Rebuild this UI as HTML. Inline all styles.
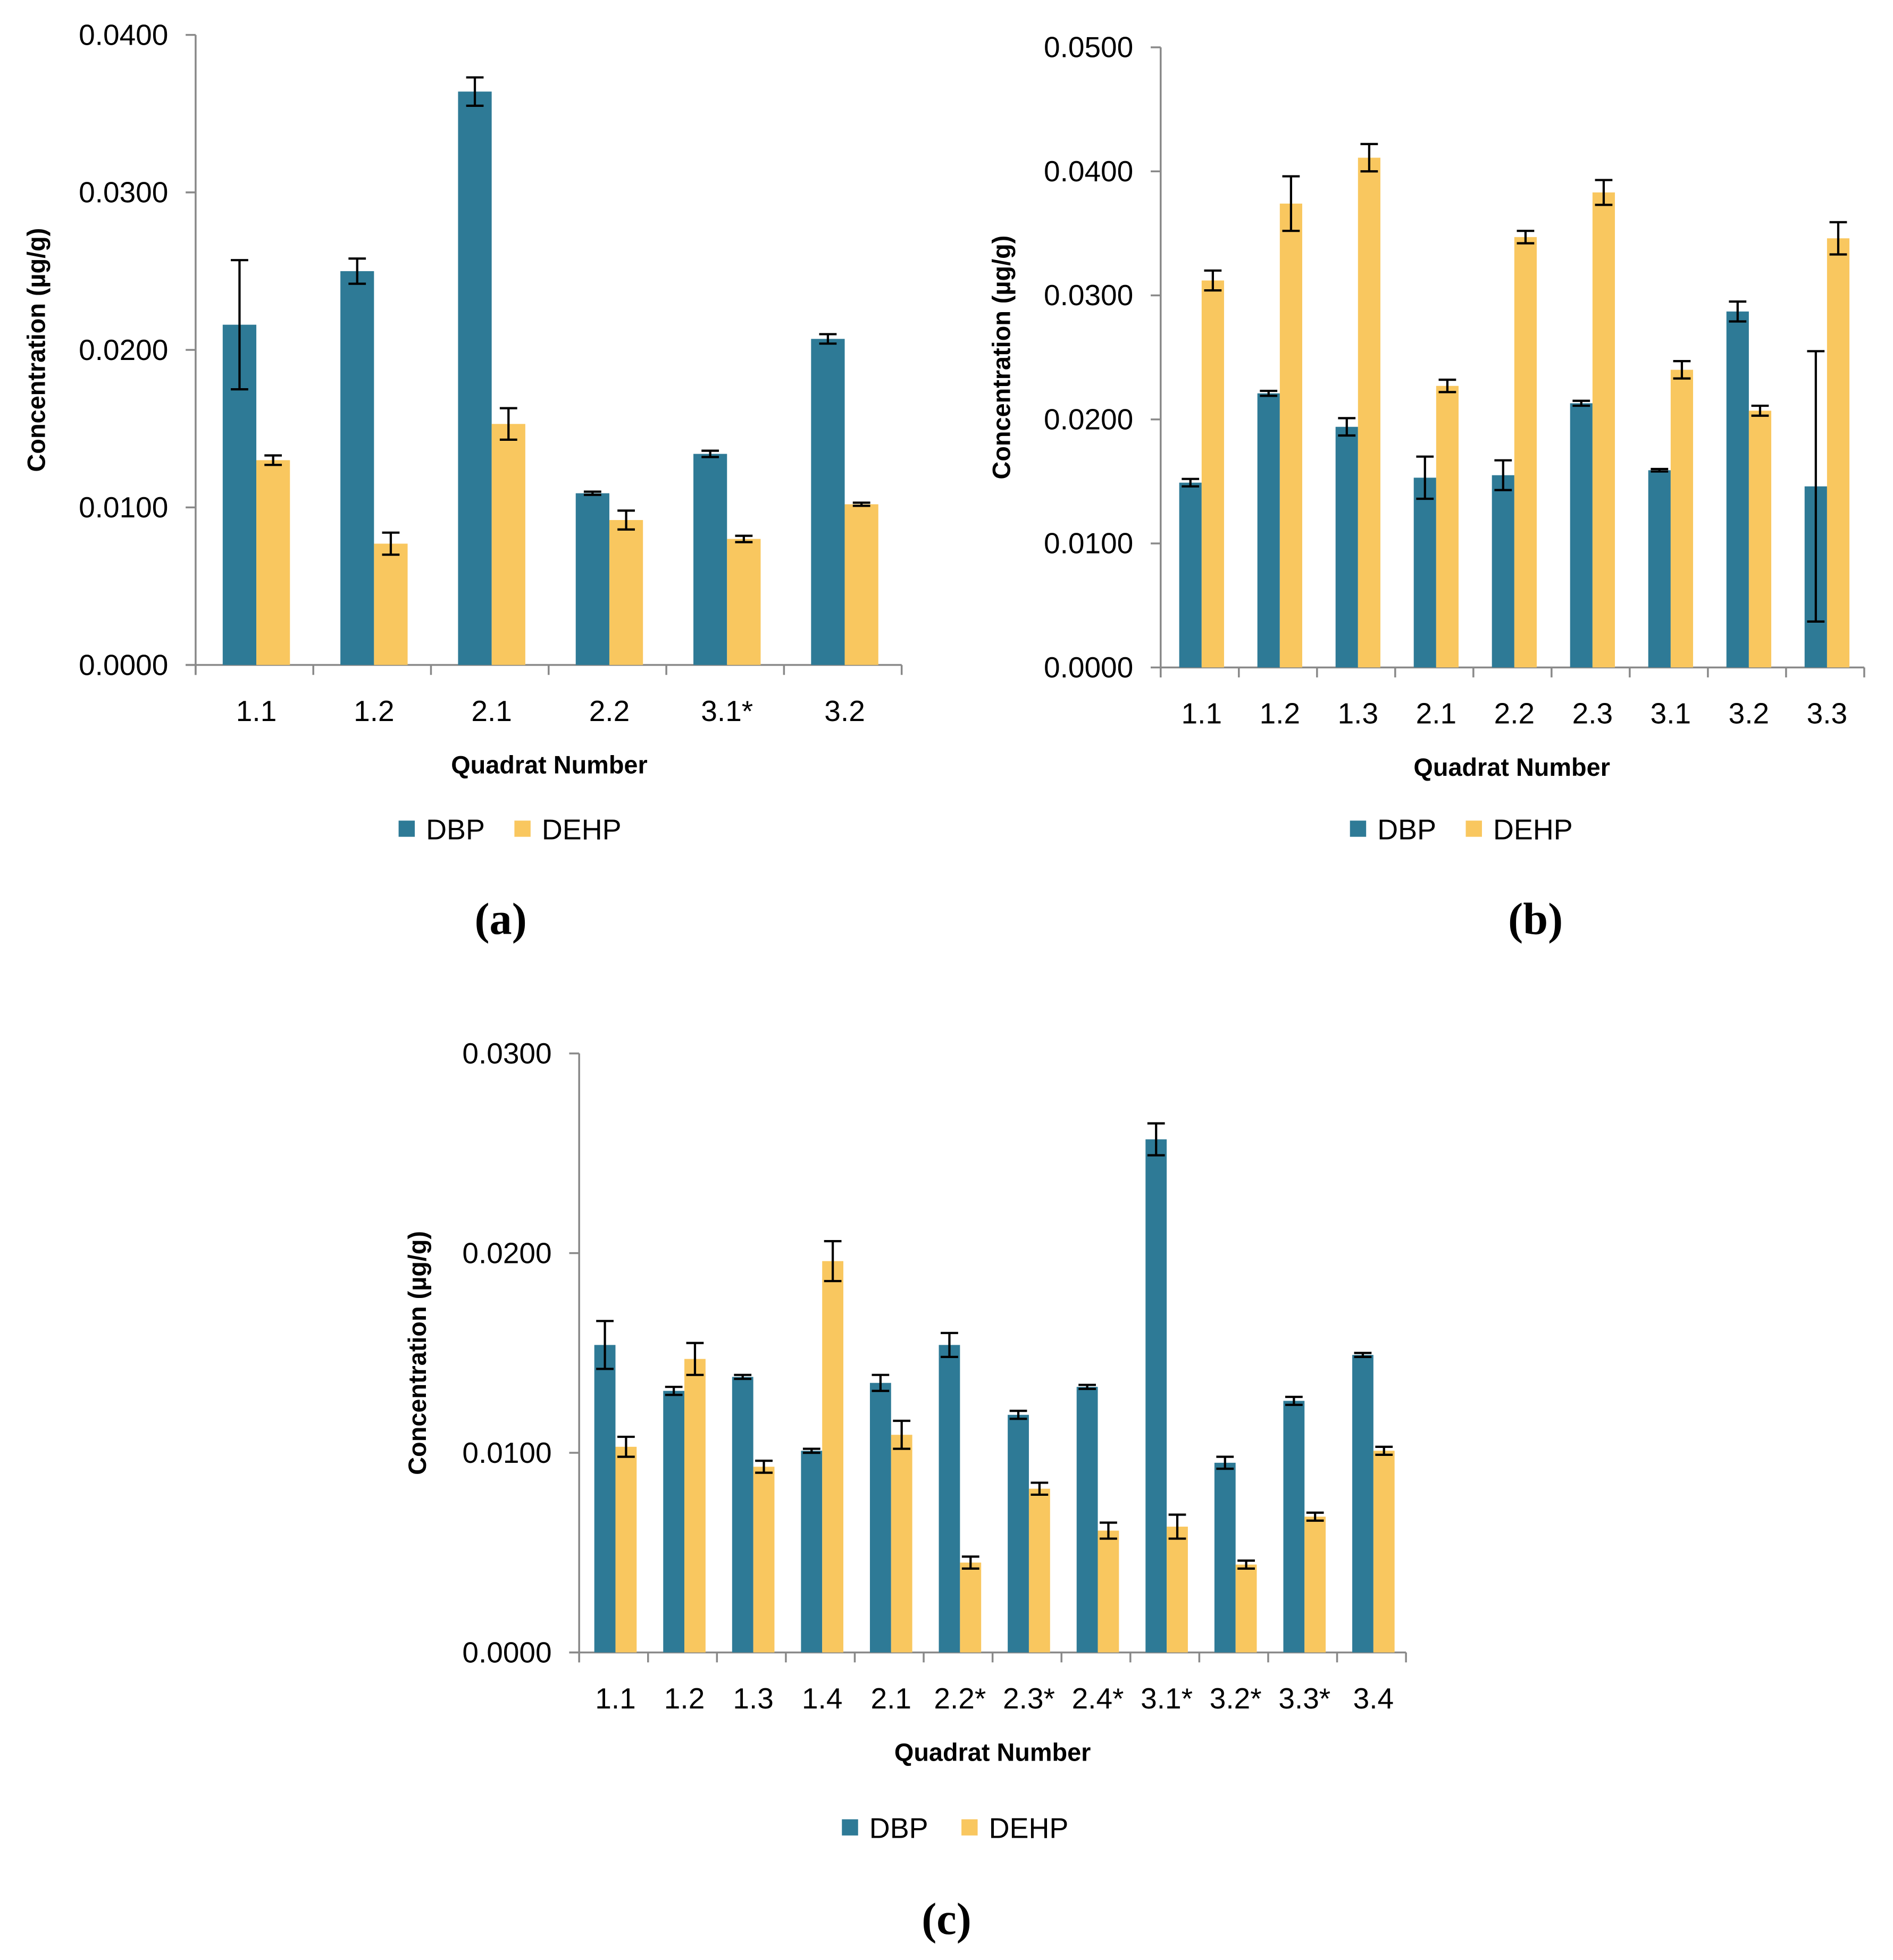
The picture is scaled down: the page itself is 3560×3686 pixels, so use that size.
<!DOCTYPE html>
<html><head><meta charset="utf-8"><style>
html,body{margin:0;padding:0;background:#fff}
svg{display:block}
text{font-family:"Liberation Sans",sans-serif;fill:#000}
</style></head><body>
<svg id="root" xmlns="http://www.w3.org/2000/svg" width="3560" height="3686" viewBox="0 0 1520 1574"></svg>
<script>
const catsA=["1.1","1.2","2.1","2.2","3.1*","3.2"];
const dbpA=[0.0216,0.0250,0.0364,0.0109,0.0134,0.0207];
const dbpErrA=[0.0041,0.0008,0.0009,0.0001,0.0002,0.0003];
const dehpA=[0.0130,0.0077,0.0153,0.0092,0.0080,0.0102];
const dehpErrA=[0.0003,0.0007,0.0010,0.0006,0.0002,0.0001];
const ticksA=["0.0000","0.0100","0.0200","0.0300","0.0400"];

const catsB=["1.1","1.2","1.3","2.1","2.2","2.3","3.1","3.2","3.3"];
const dbpB=[0.0149,0.0221,0.0194,0.0153,0.0155,0.0213,0.0159,0.0287,0.0146];
const dbpErrB=[0.0003,0.0002,0.0007,0.0017,0.0012,0.0002,0.0001,0.0008,0.0109];
const dehpB=[0.0312,0.0374,0.0411,0.0227,0.0347,0.0383,0.0240,0.0207,0.0346];
const dehpErrB=[0.0008,0.0022,0.0011,0.0005,0.0005,0.0010,0.0007,0.0004,0.0013];
const ticksB=["0.0000","0.0100","0.0200","0.0300","0.0400","0.0500"];

const catsC=["1.1","1.2","1.3","1.4","2.1","2.2*","2.3*","2.4*","3.1*","3.2*","3.3*","3.4"];
const dbpC=[0.0154,0.0131,0.0138,0.0101,0.0135,0.0154,0.0119,0.0133,0.0257,0.0095,0.0126,0.0149];
const dbpErrC=[0.0012,0.0002,0.0001,0.0001,0.0004,0.0006,0.0002,0.0001,0.0008,0.0003,0.0002,0.0001];
const dehpC=[0.0103,0.0147,0.0093,0.0196,0.0109,0.0045,0.0082,0.0061,0.0063,0.0044,0.0068,0.0101];
const dehpErrC=[0.0005,0.0008,0.0003,0.0010,0.0007,0.0003,0.0003,0.0004,0.0006,0.0002,0.0002,0.0002];
const ticksC=["0.0000","0.0100","0.0200","0.0300"];

const NS="http://www.w3.org/2000/svg";
const root=document.getElementById('root');
function mk(tag,attrs,parent,txt){const e=document.createElementNS(NS,tag);for(const k in attrs)e.setAttribute(k,attrs[k]);if(txt!==undefined)e.textContent=txt;parent.appendChild(e);return e;}

function chart(id,cfg,cats,dbp,dbpE,dehp,dehpE,ticks){
  const g=mk('g',{},root);
  
  
  const {x0,x1,y0,yTop,bw}=cfg;
  const maxV=parseFloat(ticks[ticks.length-1]);
  const ys=v=>y0-(v/maxV)*(y0-yTop);
  const cw=(x1-x0)/cats.length;
  const xc=i=>x0+cw*(i+0.5)+1.5;
  const ya=mk('line',{x1:x0,y1:yTop,x2:x0,y2:y0+8,stroke:'#898989','stroke-width':1.5},g);
  
  
  const xa=mk('line',{x1:x0-8,y1:y0,x2:x1,y2:y0,stroke:'#898989','stroke-width':1.5},g);
  
  
  ticks.forEach(t=>{const y=ys(parseFloat(t));
    mk('line',{x1:x0-8,y1:y,x2:x0,y2:y,stroke:'#898989','stroke-width':1.5},g);
    const tl=mk('text',{x:x0-22,y:y+8,'text-anchor':'end','font-size':23.5},g,t);
    
    
  });
  for(let i=0;i<=cats.length;i++){const x=x0+cw*i;mk('line',{x1:x,y1:y0,x2:x,y2:y0+8,stroke:'#898989','stroke-width':1.5},g);}
  cats.forEach((c,i)=>{
    const tl=mk('text',{x:xc(i),y:y0+45,'text-anchor':'middle','font-size':23.5},g,c);
    
    
    [[dbp,dbpE,'#2e7a96',-bw],[dehp,dehpE,'#f9c75f',0]].forEach(([vals,errs,col,off],s)=>{
      const v=vals[i],x=xc(i)+off;
      const r=mk('rect',{x:x,y:ys(v),width:bw,height:y0-ys(v),fill:col},g);
      
      
      const cx=x+bw/2,yh=ys(v+errs[i]),yl=ys(v-errs[i]),h=7;
      mk('path',{d:`M${cx},${yh}V${yl}M${cx-h},${yh}H${cx+h}M${cx-h},${yl}H${cx+h}`,stroke:'#000','stroke-width':1.8,fill:'none'},g);
    });
  });
  const yt=mk('text',{transform:`translate(${cfg.ytx},${(y0+yTop)/2}) rotate(-90)`,'text-anchor':'middle','font-size':20,'font-weight':'bold'},g,'Concentration (µg/g)');
  
  
  const xt=mk('text',{x:cfg.xtx,y:y0+87,'text-anchor':'middle','font-size':20,'font-weight':'bold'},g,'Quadrat Number');
  
  
  const lg=mk('g',{},g);
  
  
  const [l1,l2]=cfg.leg;const ly=cfg.ly;
  mk('rect',{x:l1,y:ly-7,width:13,height:13,fill:'#2e7a96'},lg);
  const a=mk('text',{x:l1+22,y:ly+8,'font-size':23},lg,'DBP');
  
  
  mk('rect',{x:l2,y:ly-7,width:13,height:13,fill:'#f9c75f'},lg);
  const b=mk('text',{x:l2+22,y:ly+8,'font-size':23},lg,'DEHP');
  
  
  const p=mk('text',{x:cfg.px,y:cfg.py,'text-anchor':'middle','font-size':36,'font-weight':'bold',style:'font-family:"Liberation Serif",serif'},g,cfg.plabel);
  
  
}
chart('chart-a',{x0:157,x1:724,y0:534,yTop:28,bw:27,ytx:36,xtx:441,leg:[320,413],ly:666,px:402,py:750,plabel:'(a)'},catsA,dbpA,dbpErrA,dehpA,dehpErrA,ticksA);
chart('chart-b',{x0:932,x1:1497,y0:536,yTop:38,bw:18,ytx:811,xtx:1214,leg:[1084,1177],ly:666,px:1233,py:750,plabel:'(b)'},catsB,dbpB,dbpErrB,dehpB,dehpErrB,ticksB);
chart('chart-c',{x0:465,x1:1129,y0:1327,yTop:846,bw:17,ytx:342,xtx:797,leg:[676,772],ly:1468,px:760,py:1553,plabel:'(c)'},catsC,dbpC,dbpErrC,dehpC,dehpErrC,ticksC);
</script>
</body></html>
